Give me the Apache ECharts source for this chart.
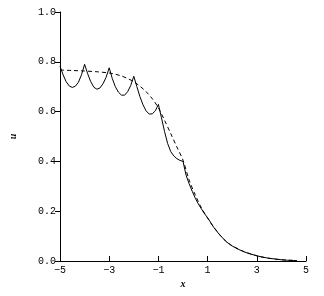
<!DOCTYPE html>
<html><head><meta charset="utf-8">
<script src="https://cdn.jsdelivr.net/npm/echarts@6/dist/echarts.min.js"></script>
<style>html,body{margin:0;padding:0;background:#fff}#c{width:324px;height:296px}</style>
</head><body><div id="c"></div>
<script>
var xTicks = [-5, -3, -1, 1, 3, 5];
var yTicks = [0, 0.2, 0.4, 0.6, 0.8, 1.0];
var solidX = [-5, -4.875, -4.75, -4.625, -4.5, -4.375, -4.25, -4.125, -4,
  -3.875, -3.75, -3.625, -3.5, -3.375, -3.25, -3.125, -3,
  -2.875, -2.75, -2.625, -2.5, -2.375, -2.25, -2.125, -2,
  -1.875, -1.75, -1.625, -1.5, -1.375, -1.25, -1.125, -1,
  -0.875, -0.75, -0.625, -0.5, -0.375, -0.25, -0.125, 0,
  0.125, 0.25, 0.375, 0.5, 0.625, 0.75, 0.875, 1,
  1.25, 1.5, 1.75, 2, 2.25, 2.5, 2.75, 3, 3.25, 3.5, 3.75, 4, 4.25, 4.5, 4.63];
var solidU = [0.783, 0.748, 0.720, 0.703, 0.697, 0.702, 0.718, 0.748, 0.790,
  0.752, 0.720, 0.698, 0.690, 0.695, 0.712, 0.738, 0.776,
  0.733, 0.700, 0.678, 0.666, 0.666, 0.680, 0.705, 0.742,
  0.700, 0.660, 0.627, 0.603, 0.590, 0.591, 0.603, 0.629,
  0.575, 0.520, 0.472, 0.440, 0.422, 0.411, 0.404, 0.400,
  0.345, 0.310, 0.280, 0.252, 0.229, 0.209, 0.190, 0.174,
  0.135, 0.104, 0.078, 0.060, 0.047, 0.036, 0.028, 0.021, 0.015, 0.011, 0.008, 0.005, 0.003, 0.002, 0.002];
var dashX = [-5, -4.5, -4, -3.5, -3, -2.75, -2.5, -2.25, -2, -1.75, -1.5, -1.25, -1,
  -0.75, -0.5, -0.25, 0, 0.25, 0.5, 0.75, 1, 1.25, 1.5, 1.75, 2, 2.5, 3, 3.5, 4, 4.63];
var dashU = [0.767, 0.765, 0.763, 0.760, 0.755, 0.750, 0.743, 0.733, 0.720, 0.702, 0.680, 0.652, 0.615,
  0.565, 0.512, 0.458, 0.405, 0.325, 0.265, 0.213, 0.172, 0.136, 0.105, 0.079, 0.061, 0.037, 0.021, 0.011, 0.005, 0.002];

function pairs(xs, ys){ return xs.map(function(x,i){ return [x, ys[i]]; }); }
var font = 'Liberation Mono';
var chart = echarts.init(document.getElementById('c'), null, {renderer:'canvas'});
chart.setOption({
  animation:false,
  grid:{left:57.5, right:18, top:12, bottom:35, containLabel:false},
  xAxis:{type:'value', min:-5, max:5, interval:2,
    name:'x', nameLocation:'middle', nameGap:17,
    nameTextStyle:{fontFamily:'Liberation Serif', fontStyle:'italic', fontWeight:'bold', fontSize:10, color:'#000'},
    axisLine:{onZero:false, lineStyle:{color:'#000', width:1}},
    axisTick:{inside:true, length:5, lineStyle:{color:'#000'}},
    axisLabel:{fontFamily:font, fontSize:10, color:'#000', margin:4,
      formatter:function(v){ return v<0 ? '\u2212'+Math.abs(v) : String(v); }},
    splitLine:{show:false}},
  yAxis:{type:'value', min:0, max:1, interval:0.2,
    name:'u', nameLocation:'middle', nameGap:42, nameRotate:90,
    nameTextStyle:{fontFamily:'Liberation Serif', fontStyle:'italic', fontWeight:'bold', fontSize:10, color:'#000'},
    axisLine:{show:true, onZero:false, lineStyle:{color:'#000', width:1}},
    axisTick:{show:true, inside:false, length:5, lineStyle:{color:'#000'}},
    axisLabel:{fontFamily:font, fontSize:10, color:'#000', margin:4,
      formatter:function(v){ return v.toFixed(1); }},
    splitLine:{show:false}},
  series:[
    {type:'line', data:pairs(solidX, solidU), showSymbol:false, smooth:false,
      lineStyle:{color:'#000', width:1}},
    {type:'line', data:pairs(dashX, dashU), showSymbol:false, smooth:0.3,
      lineStyle:{color:'#000', width:1, type:[4,3]}}
  ]
});
</script></body></html>
